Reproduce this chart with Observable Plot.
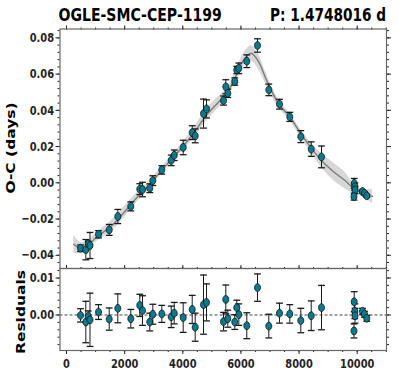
<!DOCTYPE html>
<html><head><meta charset="utf-8">
<script src="https://cdn.jsdelivr.net/npm/d3@7"></script>
<script src="https://cdn.jsdelivr.net/npm/@observablehq/plot@0.6"></script>
<style>
body{margin:0;background:#fff;}
#wrap{position:relative;width:399px;height:382px;overflow:hidden;background:#fff;}
#wrap svg{position:absolute;left:0;overflow:visible;}
</style></head><body>
<div id="wrap"></div>
<script>
// ---- data ----
const jd  = [482,664,746,808,1101,1469,1765,2212,2521,2614,2865,2969,3278,3602,3705,4014,4324,4427,4713,4816,5401,5480,5549,5789,5858,5927,6202,6570,6959,7327,7681,8060,8418,8772,9897,9918,9925,9890,10182,10251,10330];
const oc  = [-0.0361,-0.0369,-0.0338,-0.0346,-0.0284,-0.0260,-0.0186,-0.0130,-0.0035,-0.0037,-0.0030,0.0012,0.0071,0.0124,0.0152,0.0195,0.0277,0.0259,0.0382,0.0408,0.0454,0.0530,0.0494,0.0559,0.0623,0.0632,0.0671,0.0758,0.0513,0.0434,0.0364,0.0255,0.0186,0.0143,-0.0003,-0.0021,-0.0039,-0.0076,-0.0048,-0.0058,-0.0072];
const resid = [-0.0001,-0.0019,-0.0004,-0.0013,0.0008,-0.0011,0.0018,-0.0010,0.0026,0.0012,-0.0019,0.0002,0.0003,-0.0005,0.0005,-0.0007,0.0015,-0.0033,0.0028,0.0034,-0.0018,0.0042,-0.0010,-0.0019,0.0020,0.0001,-0.0029,0.0074,-0.0030,0.0005,0.0003,-0.0015,-0.0002,0.0020,0.0036,0.0010,-0.0002,-0.0043,0.0010,0.0002,-0.0009];
const err = [0.0018,0.0056,0.0015,0.0072,0.0020,0.0030,0.0039,0.0025,0.0030,0.0040,0.0024,0.0027,0.0023,0.0029,0.0029,0.0040,0.0038,0.0038,0.0080,0.0050,0.0025,0.0039,0.0023,0.0020,0.0020,0.0029,0.0035,0.0037,0.0032,0.0027,0.0025,0.0033,0.0040,0.0060,0.0027,0.0020,0.0020,0.0019,0.0008,0.0008,0.0008];

const modelT  = [250,480,700,1000,1300,1600,2000,2400,2800,3200,3600,4000,4400,4800,5200,5500,5800,6100,6350,6600,6900,7300,7700,8100,8500,8800,9200,9600,9900,10200,10530];
const modelOC = [-0.0340,-0.0360,-0.0350,-0.0305,-0.0268,-0.0230,-0.0160,-0.0085,-0.0020,0.0055,0.0128,0.0200,0.0280,0.0370,0.0440,0.0490,0.0580,0.0680,0.0715,0.0670,0.0560,0.0435,0.0360,0.0262,0.0175,0.0118,0.0060,0.0010,-0.0035,-0.0058,-0.0075];
const modelHW = [0.0050,0.0030,0.0026,0.0025,0.0027,0.0030,0.0030,0.0026,0.0022,0.0020,0.0020,0.0024,0.0028,0.0033,0.0032,0.0030,0.0030,0.0036,0.0042,0.0040,0.0032,0.0022,0.0020,0.0022,0.0030,0.0040,0.0048,0.0045,0.0025,0.0022,0.0040];

const xTicks = [0,2000,4000,6000,8000,10000];
const ocTicks = [-0.04,-0.02,0.00,0.02,0.04,0.06,0.08];
const resTicks = [0.00,0.01];
const titleText = "OGLE-SMC-CEP-1199";
const periodText = "P: 1.4748016 d";
const yLabelTop = "O-C (days)";
const yLabelBot = "Residuals";

// ---- derived tables ----
const pts = jd.map((t,i)=>({t, oc: oc[i], r: resid[i], e: err[i]}));
const model = modelT.map((t,i)=>({t, oc: modelOC[i], lo: modelOC[i]-modelHW[i], hi: modelOC[i]+modelHW[i]}));

const TEAL = "#0b7a8e";
const XDOM = [-224, 11008];
const SX = 0.76; // horizontal squeeze of the reference

const ell = {draw(ctx){const rx=3.0, ry=3.9, k=0.5523;
  ctx.moveTo(rx,0); ctx.bezierCurveTo(rx,ry*k,rx*k,ry,0,ry); ctx.bezierCurveTo(-rx*k,ry,-rx,ry*k,-rx,0);
  ctx.bezierCurveTo(-rx,-ry*k,-rx*k,-ry,0,-ry); ctx.bezierCurveTo(rx*k,-ry,rx,-ry*k,rx,0); ctx.closePath();}};
const cap = {draw(ctx){ctx.moveTo(-3.4,0); ctx.lineTo(3.4,0);}};

const xMinor = d3.range(0, 11001, 500);
const ocMinor = d3.range(-44, 85, 4).map(v=>v/1000);
const resMinor = d3.range(-8, 13, 2).map(v=>v/1000);
const fmt2 = d3.format(".2f");
const blank = () => "";
const AX = {label: null, color: "#222", fontSize: 13, fontWeight: "bold", fontFamily: "DejaVu Sans"};

function yAxes(major, minor, fmt){
  return [
    Plot.axisY({...AX, anchor:"left", ticks: major, tickSize: 4, tickPadding: 2, tickFormat: fmt}),
    Plot.axisY({...AX, anchor:"left", ticks: minor, tickSize: 2, tickFormat: blank}),
    Plot.axisY({...AX, anchor:"right", ticks: major, tickSize: 4, tickFormat: blank}),
    Plot.axisY({...AX, anchor:"right", ticks: minor, tickSize: 2, tickFormat: blank})
  ];
}
function errMarks(yKey){
  const lo = d => d[yKey]-d.e, hi = d => d[yKey]+d.e;
  return [
    Plot.ruleX(pts, {x:"t", y1: lo, y2: hi, stroke:"#1a1a1a", strokeWidth: 1}),
    Plot.dot(pts, {x:"t", y: lo, symbol: cap, stroke:"#1a1a1a", strokeWidth: 1.3, fill:"none"}),
    Plot.dot(pts, {x:"t", y: hi, symbol: cap, stroke:"#1a1a1a", strokeWidth: 1.3, fill:"none"}),
    Plot.dot(pts, {x:"t", y: yKey, symbol: ell, fill: TEAL, stroke:"#111", strokeWidth: 0.8})
  ];
}

const topPlot = Plot.plot({
  width: 399, height: 268, marginTop: 28.5, marginBottom: 0, marginLeft: 59.5, marginRight: 13,
  x: {domain: XDOM}, y: {domain: [-0.0473, 0.0849]},
  marks: [
    Plot.areaY(model, {x:"t", y1:"lo", y2:"hi", fill:"#c6c6c6", fillOpacity: 0.7, curve:"catmull-rom"}),
    Plot.line(model, {x:"t", y:"oc", stroke:"#7c7c7c", strokeWidth: 1.4, curve:"catmull-rom"}),
    ...errMarks("oc"),
    ...yAxes(ocTicks, ocMinor, fmt2),
    Plot.axisX({...AX, anchor:"top", ticks: xTicks, tickSize: 4, tickFormat: blank}),
    Plot.axisX({...AX, anchor:"top", ticks: xMinor, tickSize: 2, tickFormat: blank}),
    Plot.frame({stroke:"#666", strokeWidth: 1.2})
  ]
});

const botPlot = Plot.plot({
  width: 399, height: 124, marginTop: 10, marginBottom: 32, marginLeft: 59.5, marginRight: 13,
  x: {domain: XDOM}, y: {domain: [-0.0096, 0.01257]},
  marks: [
    Plot.ruleY([0], {stroke:"#444", strokeWidth: 1, strokeDasharray: "3,2"}),
    ...errMarks("r"),
    ...yAxes(resTicks, resMinor, fmt2),
    Plot.axisX({...AX, anchor:"top", ticks: xTicks, tickSize: 4, tickFormat: blank}),
    Plot.axisX({...AX, anchor:"top", ticks: xMinor, tickSize: 2, tickFormat: blank}),
    Plot.axisX({...AX, anchor:"bottom", ticks: xTicks, tickSize: 4, tickPadding: 4, tickFormat: d => String(d)}),
    Plot.axisX({...AX, anchor:"bottom", ticks: xMinor, tickSize: 2, tickFormat: blank}),
    Plot.frame({stroke:"#666", strokeWidth: 1.2})
  ]
});

const wrap = document.getElementById("wrap");
for (const [svg, top] of [[topPlot, 0], [botPlot, 258]]) {
  svg.style.top = top + "px";
  svg.style.background = "none";
  svg.style.overflow = "visible";
  d3.select(svg).selectAll("text").each(function(){
    const tr = this.getAttribute("transform");
    if (tr) this.setAttribute("transform", tr + ` scale(${SX},1)`);
  });
  wrap.appendChild(svg);
}

// overlay texts
const ov = d3.select(wrap).append("svg").attr("width",399).attr("height",382).style("top","0px")
  .attr("font-family","DejaVu Sans").attr("font-weight","bold");
ov.append("text").attr("transform",`translate(58.5,21) scale(${SX},1)`).attr("font-size",18.5).text(titleText);
ov.append("text").attr("transform",`translate(386,21) scale(${SX},1)`).attr("text-anchor","end").attr("font-size",18).text(periodText);
ov.append("text").attr("transform",`translate(15,148) scale(${SX},1) rotate(-90)`).attr("text-anchor","middle").attr("font-size",15.5).text(yLabelTop);
ov.append("text").attr("transform",`translate(25,312) scale(${SX},1) rotate(-90)`).attr("text-anchor","middle").attr("font-size",15.5).text(yLabelBot);
</script>
</body></html>
